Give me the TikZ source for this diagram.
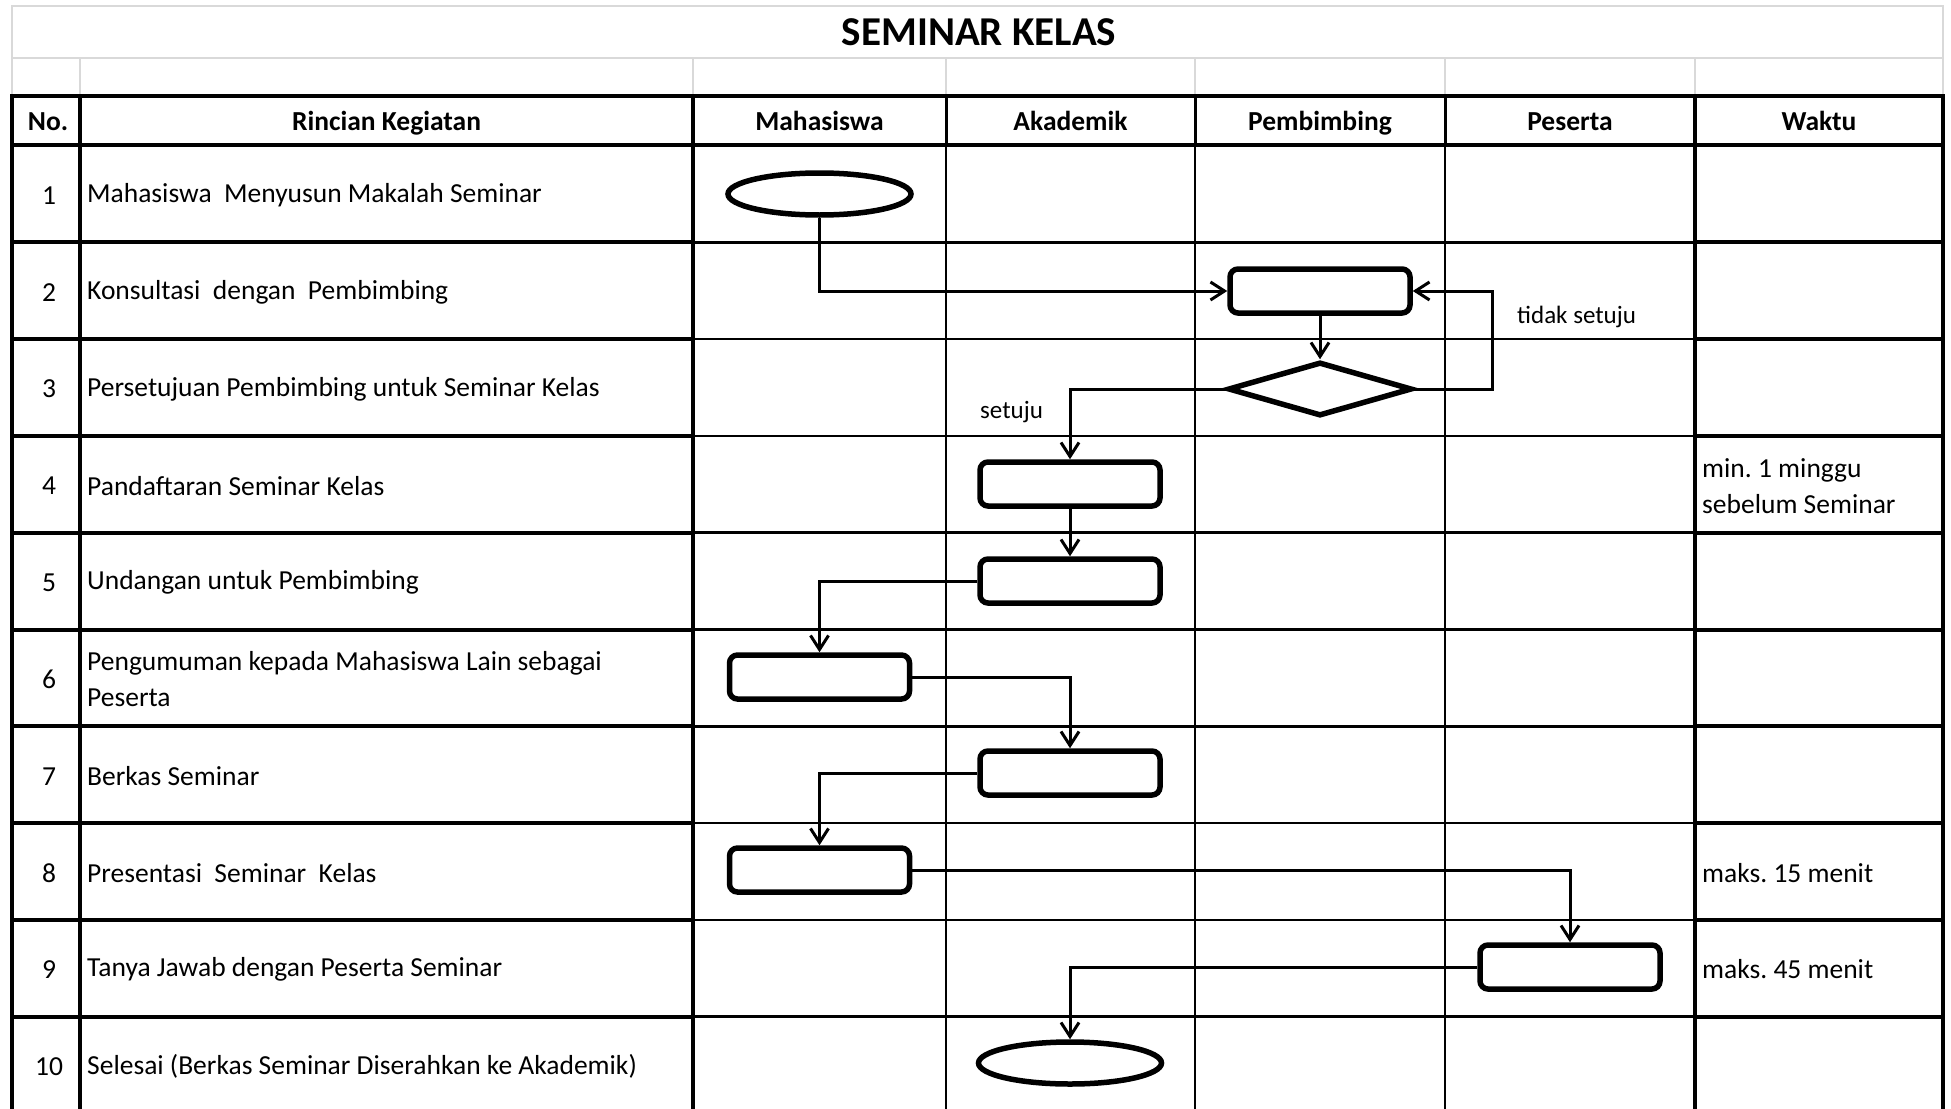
\documentclass[tikz,border=0pt]{standalone}
\usepackage{fontspec}
\setmainfont{Carlito}
\usetikzlibrary{arrows.meta,shapes.geometric}
\definecolor{gridgray}{RGB}{217,217,217}
\frenchspacing
\begin{document}
\begin{tikzpicture}[x=1pt,y=-1pt,
  tk/.style={line width=4pt,line cap=rect},
  md/.style={line width=2.5pt},
  tn/.style={line width=1.6pt},
  gl/.style={draw=gridgray,line width=1.6pt},
  txt/.style={font=\fontsize{27.5}{36}\selectfont,inner sep=0pt,align=left},
  hdr/.style={font=\fontsize{27.5}{36}\selectfont\bfseries,inner sep=0pt,text height=17.7pt,text depth=0pt},
  lbl/.style={font=\fontsize{25}{30}\selectfont,inner sep=0pt},
  shp/.style={draw,line width=5.5pt,inner sep=0pt,fill=white},
  term/.style={shp,ellipse,minimum width=183pt,minimum height=42pt},
  proc/.style={shp,rectangle,rounded corners=8pt,minimum width=180pt,minimum height=44pt},
  dec/.style={shp,diamond,minimum width=184pt,minimum height=54pt},
  conn/.style={line width=3pt,-{Straight Barb[length=14pt,width=18pt,line width=3pt]}}]
\useasboundingbox (0,0) rectangle (1951,1108);
% gray top rows
\draw[gl] (12,6) rectangle (1943,58);
\foreach \x in {12,80,693,946,1195,1445,1695,1943} \draw[gl] (\x,58) -- (\x,96);
% title
\node[font=\fontsize{41}{48}\selectfont\bfseries,inner sep=0pt] (title) at (979,32) {SEMINAR KELAS};
% body horizontal lines
\foreach \i in {1,...,9} {
  \pgfmathsetmacro{\yy}{145.5+96.8*\i}
  \draw[md] (693,\yy) -- (1695,\yy);
  \draw[tk] (12,\yy) -- (693,\yy);
  \draw[tk] (1695,\yy) -- (1943,\yy);
}
% body vertical lines
\foreach \x in {946,1195,1445} \draw[tn] (\x,145.5) -- (\x,1110);
\foreach \x in {946,1195,1445} \draw[line width=3pt] (\x,96) -- (\x,145.5);
\foreach \x in {12,80,693,1695,1943} \draw[tk] (\x,96) -- (\x,1110);
% header
\draw[tk] (12,96) -- (1943,96);
\draw[tk] (12,145) -- (1943,145);
\node[hdr] (h0) at (48,122) {No.};
\node[hdr] (h1) at (386.5,122) {Rincian Kegiatan};
\node[hdr] (h2) at (819.5,122) {Mahasiswa};
\node[hdr] (h3) at (1070.5,122) {Akademik};
\node[hdr] (h4) at (1320,122) {Pembimbing};
\node[hdr] (h5) at (1570,122) {Peserta};
\node[hdr] (h6) at (1819,122) {Waktu};
% row numbers and descriptions
\foreach \i/\t in {1/{Mahasiswa~ Menyusun Makalah Seminar},
                   2/{Konsultasi~ dengan~ Pembimbing},
                   3/{Persetujuan Pembimbing untuk Seminar Kelas},
                   4/{Pandaftaran Seminar Kelas},
                   5/{Undangan untuk Pembimbing},
                   6/{Pengumuman kepada Mahasiswa Lain sebagai\\Peserta},
                   7/{Berkas Seminar},
                   8/{Presentasi~ Seminar~ Kelas},
                   9/{Tanya Jawab dengan Peserta Seminar},
                   10/{Selesai (Berkas Seminar Diserahkan ke Akademik)}} {
  \pgfmathsetmacro{\yc}{145.5+96.8*(\i-0.5)+1.5}
  \node[txt] (n\i) at (49,\yc) {\i};
  \node[txt,anchor=west] (r\i) at (87,\yc) {\t};
}
% waktu
\node[txt,anchor=west] (w4) at (1702,486) {min. 1 minggu\\sebelum Seminar};
\node[txt,anchor=west] (w8) at (1702,873) {maks. 15 menit};
\node[txt,anchor=west] (w9) at (1702,969) {maks. 45 menit};
% flow shapes
\node[term] (e1) at (819.5,194) {};
\node[proc] (p2) at (1320,291) {};
\node[dec] (d3) at (1320,389) {};
\node[proc] (a4) at (1070,484) {};
\node[proc] (a5) at (1070,581) {};
\node[proc] (m6) at (819.5,677) {};
\node[proc] (a7) at (1070,773) {};
\node[proc] (m8) at (819.5,870) {};
\node[proc] (p9) at (1570,967) {};
\node[term] (e10) at (1070,1063) {};
\coordinate (k1) at (1492,291);
% connectors
\draw[conn] (e1.south) |- (p2.west);
\draw[conn] (p2.south) -- (d3.north);
\draw[conn] (d3.east) -| (k1) -- (p2.east);
\draw[conn] (d3.west) -| (a4.north);
\draw[conn] (a4.south) -- (a5.north);
\draw[conn] (a5.west) -| (m6.north);
\draw[conn] (m6.east) -| (a7.north);
\draw[conn] (a7.west) -| (m8.north);
\draw[conn] (m8.east) -| (p9.north);
\draw[conn] (p9.west) -| (e10.north);
% labels
\node[lbl,anchor=west] (ls) at (980,412) {setuju};
\node[lbl,anchor=west] (lt) at (1517,317) {tidak setuju};
\end{tikzpicture}
\end{document}
